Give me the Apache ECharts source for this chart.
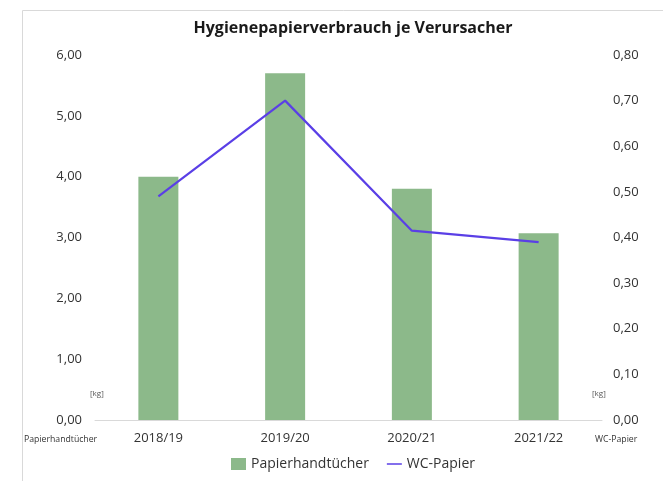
<!DOCTYPE html>
<html>
<head>
<meta charset="utf-8">
<script src="https://cdn.jsdelivr.net/npm/echarts@6/dist/echarts.min.js"></script>
<style>html,body{margin:0;padding:0;background:#fff;}#c{width:663px;height:481px;}</style>
</head>
<body>
<div id="c"></div>
<script>
const categories = ['2018/19', '2019/20', '2020/21', '2021/22'];
const papierhandtuecher = [4.00, 5.70, 3.80, 3.07];
const wcPapier = [0.49, 0.70, 0.415, 0.39];

const fontFam = '"Open Sans", "Noto Sans", sans-serif';
const fmt = v => v.toFixed(2).replace('.', ',');
const chart = echarts.init(document.getElementById('c'));
chart.setOption({
  animation: false,
  textStyle: { fontFamily: fontFam },
  title: {
    text: 'Hygienepapierverbrauch je Verursacher',
    left: 348, top: 15, textAlign: 'center',
    textStyle: { fontSize: 16, fontWeight: 'bold', color: '#1a1a1a', fontFamily: fontFam }
  },
  legend: {
    bottom: 5, left: 226, itemGap: 18, itemWidth: 15, itemHeight: 12,
    textStyle: { fontSize: 14, color: '#333', fontFamily: fontFam },
    data: [
      { name: 'Papierhandtücher', icon: 'rect' },
      { name: 'WC-Papier', icon: 'path://M0,5 L20,5 L20,7 L0,7 Z', itemStyle: { color: '#5a3fe6' } }
    ]
  },
  grid: { left: 95, right: 61, top: 55, bottom: 61 },
  xAxis: {
    type: 'category', data: categories,
    axisLine: { lineStyle: { color: '#d9d9d9' } },
    axisTick: { show: false },
    axisLabel: { fontSize: 13, color: '#333', margin: 12, fontFamily: fontFam }
  },
  yAxis: [
    {
      type: 'value', min: 0, max: 6, interval: 1,
      axisLine: { show: false }, axisTick: { show: false },
      splitLine: { show: false },
      axisLabel: { formatter: fmt, fontSize: 13, color: '#333', margin: 13, fontFamily: fontFam }
    },
    {
      type: 'value', min: 0, max: 0.8, interval: 0.1,
      axisLine: { show: false }, axisTick: { show: false },
      splitLine: { show: false },
      axisLabel: { formatter: fmt, fontSize: 13, color: '#333', margin: 11, fontFamily: fontFam }
    }
  ],
  series: [
    {
      name: 'Papierhandtücher', type: 'bar', data: papierhandtuecher,
      barWidth: 40, itemStyle: { color: '#8cb98a' }
    },
    {
      name: 'WC-Papier', type: 'line', yAxisIndex: 1, data: wcPapier,
      symbol: 'none', lineStyle: { color: '#5a3fe6', width: 2.2 }, itemStyle: { color: '#5a3fe6' }
    }
  ],
  graphic: [
    { type: 'rect', left: 20, top: 8, shape: { width: 700, height: 520 }, style: { fill: 'none', stroke: '#d9d9d9', lineWidth: 1 }, silent: true, z: -1 },
    { type: 'text', left: 90, top: 390, style: { text: '[kg]', fontSize: 8, fill: '#555', fontFamily: fontFam } },
    { type: 'text', left: 592, top: 390, style: { text: '[kg]', fontSize: 8, fill: '#555', fontFamily: fontFam } },
    { type: 'text', left: 24, top: 435, style: { text: 'Papierhandtücher', fontSize: 8.7, fill: '#333', fontFamily: fontFam } },
    { type: 'text', left: 595, top: 435, style: { text: 'WC-Papier', fontSize: 8.7, fill: '#333', fontFamily: fontFam } }
  ]
});
</script>
</body>
</html>
